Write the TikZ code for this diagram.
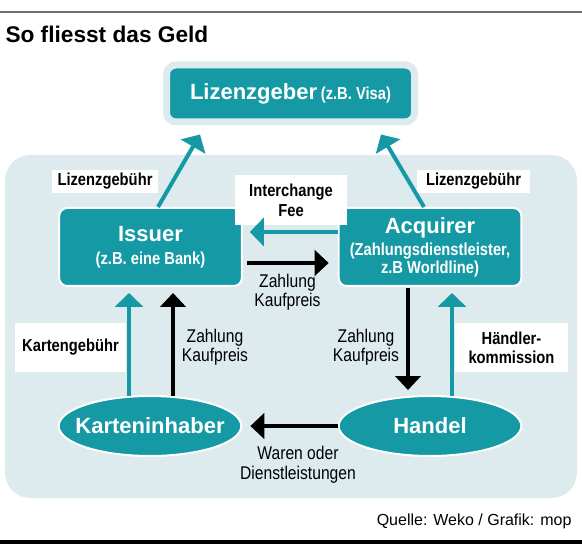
\documentclass[tikz,border=0pt]{standalone}
\usepackage{fontspec}
\setmainfont{Liberation Sans}
\newfontfamily\condfont[FakeStretch=0.85]{Liberation Sans}
\usetikzlibrary{arrows.meta,shapes.geometric,calc}

\definecolor{tealbox}{RGB}{21,154,165}
\definecolor{panelbg}{RGB}{221,234,238}
\definecolor{rulegray}{RGB}{110,110,110}

\newcommand{\bigbold}{\fontsize{16.5}{19}\selectfont\bfseries}
\newcommand{\condbold}{\condfont\fontsize{13}{17}\selectfont\bfseries}
\newcommand{\condreg}{\condfont\fontsize{13.8}{14.5}\selectfont}

\tikzset{every picture/.style={line width=0.75pt}}
\tikzset{
  mainbox/.style={draw=white, line width=1.5pt, fill=tealbox, rounded corners=6pt, text=white, align=center, minimum width=137pt, minimum height=58.5pt, inner sep=0pt},
  oval/.style={ellipse, draw=white, line width=1.5pt, fill=tealbox, text=white, minimum width=137pt, minimum height=45pt, inner ysep=0pt, inner xsep=-10pt, font=\bigbold},
  tag/.style={fill=white, inner sep=0pt, align=center, font=\condbold},
  plain/.style={inner sep=0pt, align=center, font=\condreg},
  tealarrow/.style={draw=tealbox, line width=3pt, -{Triangle[width=21pt,length=10.5pt]}},
  blackarrow/.style={draw=black, line width=3pt, -{Triangle[width=19pt,length=10.5pt]}},
}

\begin{document}
\begin{tikzpicture}[x=0.75pt,y=0.75pt,yscale=-1,xscale=1]
\useasboundingbox (0,0) rectangle (582,552);

%Rules and panel
\draw[rulegray, line width=1.2pt] (0,12) -- (582,12);
\draw[black, line width=3pt] (0,542) -- (582,542);
\fill[panelbg, rounded corners=19pt] (5,155) rectangle (577,498);

% Title
\node[anchor=base west, inner sep=0pt, font=\fontsize{17}{20}\selectfont\bfseries] (title) at (5,43) {So fliesst das Geld};

% Boxes
\node[draw=panelbg, line width=5.25pt, fill=tealbox, rounded corners=7pt, text=white, minimum width=186pt, minimum height=42.75pt, inner sep=0pt] (lizenz) at (290.5,93.5) {{\bigbold Lizenzgeber} {\condbold (z.B. Visa)}};
\node[mainbox] (issuer) at (150.5,247) {{\bigbold Issuer}\\[5pt]{\condbold (z.B. eine Bank)}};
\node[mainbox] (acquirer) at (430,247) {{\bigbold Acquirer}\\[3pt]{\condbold (Zahlungsdienstleister,}\\{\condbold z.B Worldline)}};
\node[oval] (karten) at (150,426) {Karteninhaber};
\node[oval] (handel) at (430,426) {Handel};

% Labels
\node[tag, minimum width=79.5pt, minimum height=17.25pt] (feeleft) at (105,181.5) {Lizenzgebühr};
\node[tag, minimum width=84.75pt, minimum height=17.25pt] (feeright) at (473.5,181.5) {Lizenzgebühr};
\node[tag, minimum width=84pt, minimum height=37.5pt, font=\condfont\fontsize{13}{15}\selectfont\bfseries] (interchange) at (291,200) {Interchange\\Fee};
\node[tag, minimum width=83.25pt, minimum height=36.75pt] (kartenfee) at (70.5,347.5) {Kartengebühr};
\node[tag, minimum width=84.75pt, minimum height=36.75pt, font=\condfont\fontsize{13}{14.5}\selectfont\bfseries] (haendler) at (511.5,347.5) {Händler-\\kommission};
\node[plain] (payleft) at (215,347.5) {Zahlung\\Kaufpreis};
\node[plain] (paymid) at (287.5,292.5) {Zahlung\\Kaufpreis};
\node[plain] (payright) at (366,347.5) {Zahlung\\Kaufpreis};
\node[plain, font=\condfont\fontsize{13.8}{15}\selectfont] (goods) at (298,465) {Waren oder\\Dienstleistungen};
\node[anchor=base east, inner sep=0pt, font=\fontsize{12}{14}\selectfont] (source) at (572,525) {Quelle: Weko / Grafik: mop};

% Arrows
\draw[tealarrow] ($(issuer.north)+(7.5,0)$) -- ($(lizenz.south)+(-90.5,9)$);
\draw[tealarrow] ($(acquirer.north)+(-6,0)$) -- ($(lizenz.south)+(90.5,9)$);
\draw[tealarrow] ($(acquirer.west)+(0,-15)$) -- ($(issuer.east)+(7,-15)$);
\draw[blackarrow] ($(issuer.east)+(4,16)$) -- ($(acquirer.west)+(-9,16)$);
\draw[tealarrow] ($(karten.north)+(-21,1)$) -- ($(issuer.south)+(-21.5,6)$);
\draw[blackarrow] ($(karten.north)+(23,1)$) -- ($(issuer.south)+(22.5,6)$);
\draw[blackarrow] ($(acquirer.south)+(-22,1)$) -- ($(handel.north)+(-22,-5)$);
\draw[tealarrow] ($(handel.north)+(22,1)$) -- ($(acquirer.south)+(22,6)$);
\draw[blackarrow] (handel.west) -- ($(karten.east)+(8,0)$);

\end{tikzpicture}
\end{document}
